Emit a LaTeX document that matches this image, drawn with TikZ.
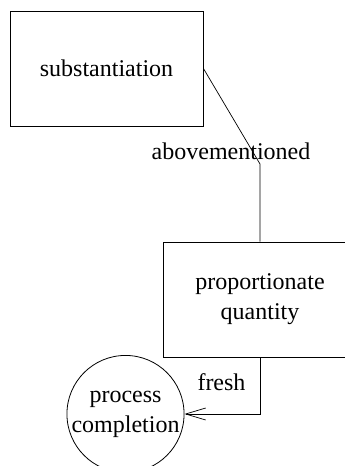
\documentclass[tikz,border=0pt]{standalone}
\usepackage{fontspec}
\setmainfont{Liberation Serif}
\usetikzlibrary{arrows.meta}

\begin{document}
\begin{tikzpicture}[x=1pt,y=-1pt,
  box/.style={draw,line width=0.9pt,minimum width=193pt,minimum height=115pt,inner sep=0pt,align=center},
  bubble/.style={draw,circle,line width=0.8pt,minimum size=115pt,inner sep=0pt,align=center},
  link/.style={line width=0.7pt},
  lbl/.style={anchor=base,inner sep=0pt}]
\useasboundingbox (0,0) rectangle (345,466);
\fontsize{24}{30}\selectfont
\node[box] (subst) at (106.5,68.5) {substantiation};
\node[box] (prop) at (260,299.5) {proportionate\\quantity};
\node[bubble] (done) at (125.5,414) {process\\completion};
\coordinate (bendA) at (260,164);
\coordinate (bendB) at (260,414);
\draw[link] (subst.east) -- (bendA) -- (prop.north);
\draw[link,-{Straight Barb[length=20pt,width=12pt]}] (prop.south) -- (bendB) -- (done.east);
\node[lbl] (lblA) at (231,159) {abovementioned};
\node[lbl] (lblB) at (221.5,390.5) {fresh};
\end{tikzpicture}
\end{document}
